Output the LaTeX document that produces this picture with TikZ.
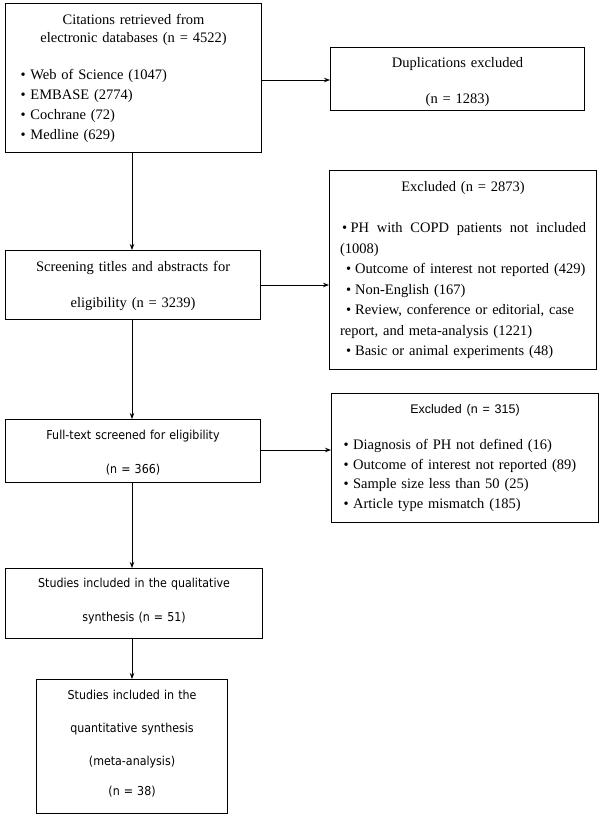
\documentclass[tikz,border=0pt]{standalone}
\usepackage{fontspec}
\setmainfont{Liberation Serif}
\newfontfamily\tahomaf[FakeStretch=0.9]{DejaVu Sans}
\newfontfamily\arialf{Liberation Sans}
\usetikzlibrary{arrows.meta}
\newcommand\topstrut[1]{\rule{0pt}{#1}}
\newcommand\botstrut[1]{\rule[-#1]{0pt}{#1}}
\begin{document}
\begin{tikzpicture}[x=1pt,y=-1pt,
  box/.style={draw, line width=1.1pt, inner sep=0pt, anchor=north west,
    font=\fontsize{14.5}{20}\selectfont},
  sansbox/.style={box, font=\tahomaf\fontsize{12.3}{20}\selectfont},
  arr/.style={-{Stealth[length=6pt,width=4.5pt]}, line width=0.9pt}]
\useasboundingbox (0,0) rectangle (600,816);

\node[box, minimum width=256pt, minimum height=149pt, text width=226pt] (b1) at (5,3)
{\parindent=0pt{\centering\fontsize{14.5}{18}\selectfont Citations retrieved from\\electronic databases (n = 4522)\par}
\vspace{17pt}\raggedright
\textbullet\ Web of Science (1047)\par
\textbullet\ EMBASE (2774)\par
\textbullet\ Cochrane (72)\par
\textbullet\ Medline (629)\par};

\node[box, minimum width=254pt, minimum height=63pt, text width=240pt] (b2) at (330,47)
{\parindent=0pt\centering\topstrut{18pt}Duplications excluded\\[16pt](n = 1283)\botstrut{5pt}\par};

\node[box, minimum width=267pt, minimum height=199pt, text width=246pt,
  font=\fontsize{14.5}{20.5}\selectfont] (b3) at (329,170)
{\parindent=0pt{\centering Excluded (n = 2873)\par}
\vspace{21pt}\raggedright
\hbox to \hsize{\hspace*{2pt}\textbullet\hspace{3.5pt}PH\hfill with\hfill COPD\hfill patients\hfill not\hfill included}
(1008)\par
\hspace*{6pt}\textbullet\hspace{4pt}Outcome of interest not reported (429)\par
\hspace*{6pt}\textbullet\hspace{4pt}Non-English (167)\par
\hspace*{6pt}\textbullet\hspace{4pt}Review, conference or editorial, case\par
report, and meta-analysis (1221)\par
\hspace*{6pt}\textbullet\hspace{4pt}Basic or animal experiments (48)\par};

\node[box, minimum width=255pt, minimum height=69pt, text width=240pt] (b4) at (5,250)
{\parindent=0pt\centering\topstrut{14pt}Screening titles and abstracts for\\[16pt]eligibility (n = 3239)\botstrut{5pt}\par};

\node[sansbox, minimum width=255pt, minimum height=63pt, text width=240pt] (b5) at (5,419)
{\parindent=0pt\centering\topstrut{15pt}Full-text screened for eligibility\\[14pt](n = 366)\botstrut{5pt}\par};

\node[box, minimum width=267pt, minimum height=129pt, text width=247pt,
  font=\fontsize{14.5}{19.7}\selectfont] (b6) at (331,393)
{\parindent=0pt{\centering\arialf\fontsize{12.5}{19.7}\selectfont Excluded (n = 315)\par}
\vspace{16pt}\raggedright
\hspace*{2pt}\textbullet\hspace{4.5pt}Diagnosis of PH not defined (16)\par
\hspace*{2pt}\textbullet\hspace{4.5pt}Outcome of interest not reported (89)\par
\hspace*{2pt}\textbullet\hspace{4.5pt}Sample size less than 50 (25)\par
\hspace*{2pt}\textbullet\hspace{4.5pt}Article type mismatch (185)\par};

\node[sansbox, minimum width=257pt, minimum height=70pt, text width=240pt] (b7) at (5,568)
{\parindent=0pt\centering\topstrut{12pt}Studies included in the qualitative\\[14pt]synthesis (n = 51)\botstrut{11pt}\par};

\node[sansbox, minimum width=191pt, minimum height=134pt, text width=181pt] (b8) at (36,679)
{\parindent=0pt\centering\topstrut{12pt}Studies included in the\\[13pt]quantitative synthesis\\[13pt](meta-analysis)\\[10pt](n = 38)\botstrut{11pt}\par};

\draw[arr] (b1.east |- 0,80) -- (b2.west |- 0,80);
\draw[arr] (b1.south -| 132,0) -- (b4.north -| 132,0);
\draw[arr] (b4.east |- 0,285) -- (b3.west |- 0,285);
\draw[arr] (b4.south -| 132,0) -- (b5.north -| 132,0);
\draw[arr] (b5.east |- 0,450) -- (b6.west |- 0,450);
\draw[arr] (b5.south -| 132,0) -- (b7.north -| 132,0);
\draw[arr] (b7.south -| 132,0) -- (b8.north -| 132,0);
\end{tikzpicture}
\end{document}
